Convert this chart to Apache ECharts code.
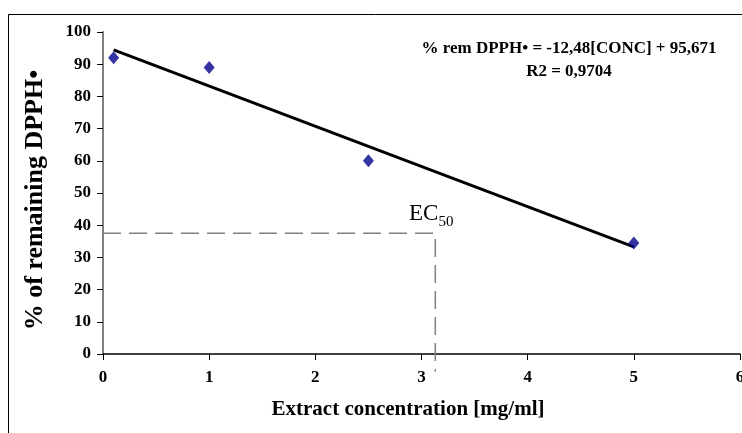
<!DOCTYPE html>
<html>
<head>
<meta charset="utf-8">
<script src="https://cdn.jsdelivr.net/npm/echarts@6/dist/echarts.min.js"></script>
<style>
  html, body { margin: 0; padding: 0; background: #fff; }
  #chart { width: 742px; height: 433px; }
</style>
</head>
<body>
<div id="chart"></div>
<script>
// measured points
const concentration = [0.1, 1, 2.5, 5]
const remaining = [92, 89, 60, 34.5]

// linear fit shown on the chart
const fitSlope = -12.48
const fitIntercept = 95.671
const fitRange = [0.1, 5]

// EC50 guide (as drawn)
const ec50Point = [3.13, 37.5]

const xTicks = [0, 1, 2, 3, 4, 5, 6]
const yTicks = [0, 10, 20, 30, 40, 50, 60, 70, 80, 90, 100]

const serif = 'Liberation Serif, Times New Roman, serif'

const chart = echarts.init(document.getElementById('chart'))

const points = concentration.map((x, i) => [x, remaining[i]])
const fitLine = fitRange.map(x => [x, fitSlope * x + fitIntercept])
const guide = [[0, ec50Point[1]], [ec50Point[0], ec50Point[1]], [ec50Point[0], -5.5]]

chart.setOption({
  animation: false,
  backgroundColor: '#fff',
  grid: { left: 103, top: 32, right: 2, bottom: 79, outerBoundsMode: 'none' },
  xAxis: {
    type: 'value',
    min: xTicks[0],
    max: xTicks[xTicks.length - 1],
    interval: 1,
    axisLine: { lineStyle: { color: '#000', width: 1.5 } },
    axisTick: { show: true, length: 6, lineStyle: { color: '#000' } },
    axisLabel: { margin: 15, color: '#000', fontFamily: serif, fontWeight: 'bold', fontSize: 17 },
    splitLine: { show: false }
  },
  yAxis: {
    type: 'value',
    min: yTicks[0],
    max: yTicks[yTicks.length - 1],
    interval: 10,
    axisLine: { show: true, lineStyle: { color: '#808080', width: 2 } },
    axisTick: { show: true, length: 6, lineStyle: { color: '#000' } },
    axisLabel: { margin: 12, color: '#000', fontFamily: serif, fontWeight: 'bold', fontSize: 17 },
    splitLine: { show: false }
  },
  series: [
    {
      type: 'line',
      data: guide,
      clip: false,
      symbol: 'none',
      silent: true,
      lineStyle: { color: '#808080', width: 1.5, type: [18, 8] },
      z: 1
    },
    {
      type: 'line',
      data: fitLine,
      symbol: 'none',
      silent: true,
      lineStyle: { color: '#000', width: 3 },
      z: 2
    },
    {
      type: 'scatter',
      data: points,
      symbol: 'diamond',
      symbolSize: [11, 13],
      itemStyle: { color: '#00008b' },
      z: 3
    }
  ],
  graphic: [
    {
      type: 'rect',
      shape: { x: 8.5, y: 14.5, width: 800, height: 500 },
      style: { fill: 'none', stroke: '#000', lineWidth: 1 },
      silent: true
    },
    {
      // y axis title
      type: 'text',
      x: 35, y: 200,
      rotation: Math.PI / 2,
      style: {
        text: '% of remaining DPPH•',
        font: 'bold 26px ' + serif,
        fill: '#000',
        align: 'center',
        verticalAlign: 'middle'
      }
    },
    {
      type: 'text',
      x: 569, y: 60,
      style: {
        text: '% rem DPPH• = -12,48[CONC] + 95,671\nR2 = 0,9704',
        font: 'bold 17px ' + serif,
        fill: '#000',
        align: 'center',
        verticalAlign: 'middle',
        lineHeight: 23
      }
    },
    {
      type: 'text',
      x: 408, y: 410,
      style: {
        text: 'Extract concentration [mg/ml]',
        font: 'bold 21px ' + serif,
        fill: '#000',
        align: 'center',
        verticalAlign: 'middle'
      }
    },
    {
      type: 'text',
      x: 409, y: 214,
      style: {
        text: '{a|EC}{b|50}',
        fill: '#000',
        verticalAlign: 'middle',
        rich: {
          a: { font: '23px ' + serif, fill: '#000' },
          b: { font: '15px ' + serif, fill: '#000', padding: [16, 0, 0, 0] }
        }
      }
    }
  ]
})
</script>
</body>
</html>
